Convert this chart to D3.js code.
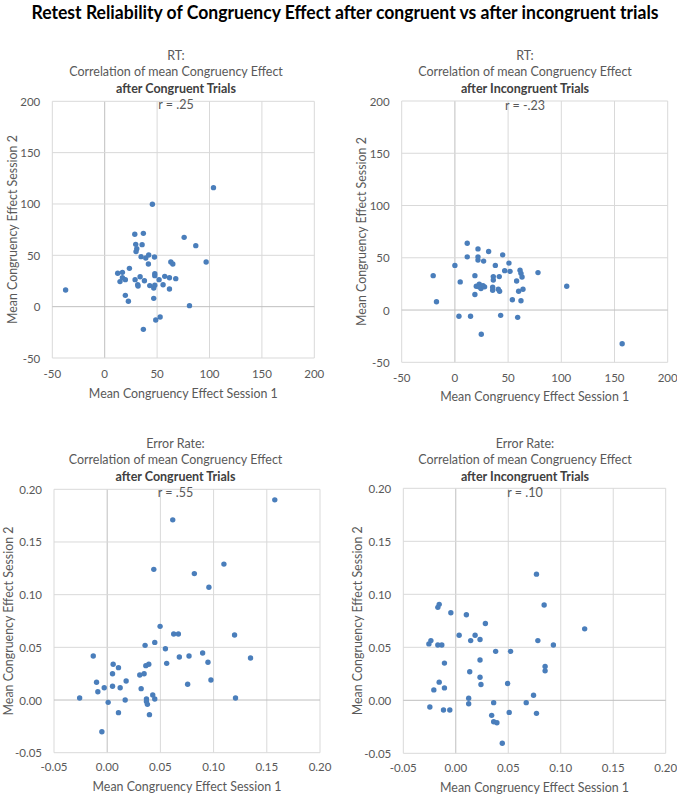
<!DOCTYPE html>
<html>
<head>
<meta charset="utf-8">
<script src="https://cdn.jsdelivr.net/npm/d3@7"></script>
<style>
  html, body { margin: 0; padding: 0; background: #fff; }
  svg { display: block; }
  text { font-family: Lato, "Open Sans", sans-serif; }
</style>
</head>
<body>
<svg id="chart" width="677" height="796"></svg>
<script>
// ---------- DATA ----------
const mainTitle = "Retest Reliability of Congruency Effect after congruent vs after incongruent trials";
const xAxisTitle = "Mean Congruency Effect Session 1";
const yAxisTitle = "Mean Congruency Effect Session 2";

const rtTicks = [-50, 0, 50, 100, 150, 200];
const rtTickLabels = ["-50", "0", "50", "100", "150", "200"];
const erTicks = [-0.05, 0, 0.05, 0.10, 0.15, 0.20];
const erTickLabels = ["-0.05", "0.00", "0.05", "0.10", "0.15", "0.20"];

// RT, after congruent trials (r = .25)
const rtCongX = [-37.3, 45.5, 103.8, 28.7, 36.9, 75.8, 86.9, 29.6, 35.7, 30.6, 29.9, 34.7, 39.2, 42, 47.5, 96.8, 63.1, 65, 41.7, 23.6, 12.4, 16.9, 16.9, 14.6, 19.7, 29, 33.8, 37.9, 47.8, 47.8, 51.9, 57.3, 61.8, 67.8, 31.5, 31.8, 43, 46.8, 47.8, 55.7, 61.8, 19.7, 22.6, 46.8, 80.9, 52.9, 48.7, 36.9];
const rtCongY = [16.2, 99.7, 115.9, 70.5, 71.4, 67.5, 59.4, 60.7, 60.4, 56.5, 53.6, 48.7, 47.4, 50.3, 48.4, 43.5, 43.5, 41.6, 41.6, 37.3, 32.5, 33.4, 28.2, 24.4, 26.3, 26.3, 29.2, 25.3, 32.1, 30.2, 26.3, 29.5, 28.2, 27.3, 21.4, 20.1, 20.5, 18.2, 20.8, 21.4, 17.2, 11, 5.2, 8.1, 1, -10.1, -13, -22.1];

// RT, after incongruent trials (r = -.23)
const rtIncX = [-20.4, -17.3, 0, 11.6, 11.6, 5, 3.8, 14.7, 21.7, 21.7, 21.7, 27, 31.7, 44.9, 18.8, 18.8, 20.1, 22.9, 24.5, 26.4, 27.9, 22.6, 38, 36.1, 36.1, 35.5, 35.5, 41.7, 40.8, 42, 46.8, 50.8, 51.8, 61.2, 62.1, 63.1, 58, 59.9, 64, 54, 62.1, 78.1, 105.1, 43, 59, 24.8, 157.2];
const rtIncY = [32.9, 7.9, 42.7, 63.9, 50.9, 26.9, -6, -6, 58.5, 50.9, 47.8, 46.8, 56, 52.8, 32.9, 14.9, 22.8, 24.7, 20.6, 23.4, 22.2, 22.2, 42.7, 32, 28.8, 21.8, 19, 32, 19.9, 18, 37.7, 44.9, 37, 38, 35.1, 31.6, 27.8, 18, 19.9, 9.8, 8.9, 35.8, 22.8, -5.1, -7, -23.1, -32.3];

// Error rate, after congruent trials (r = .55)
const erCongX = [0.1575, 0.0616, 0.0438, 0.0819, 0.0956, 0.1097, 0.0497, 0.0625, 0.0669, 0.1197, 0.0447, 0.0356, 0.0547, -0.0131, 0.0769, 0.0678, 0.0897, 0.0947, 0.1347, 0.0559, 0.0056, 0.0106, 0.0363, 0.0391, 0.005, 0.0306, 0.0347, -0.01, 0.0178, 0.0975, 0.0756, -0.0028, 0.005, 0.0122, 0.0319, -0.0088, -0.0259, 0.0169, 0.0009, 0.0369, 0.0369, 0.0378, 0.0428, 0.0447, 0.1206, 0.0106, 0.0397, -0.005];
const erCongY = [0.190, 0.171, 0.124, 0.120, 0.107, 0.129, 0.0699, 0.0627, 0.0627, 0.0617, 0.0547, 0.0519, 0.0487, 0.0418, 0.0418, 0.0408, 0.0446, 0.0358, 0.0399, 0.0348, 0.0339, 0.0307, 0.0326, 0.0339, 0.025, 0.0237, 0.025, 0.0168, 0.018, 0.019, 0.0149, 0.0117, 0.013, 0.0117, 0.0108, 0.0079, 0.0019, 0.0, -0.0022, 0.0009, -0.0013, -0.0041, 0.0047, 0.0009, 0.0019, -0.012, -0.0139, -0.0301];

// Error rate, after incongruent trials (r = .10)
const erIncX = [0.0769, 0.0842, -0.0158, -0.0171, -0.0047, 0.0101, 0.0282, 0.1228, 0.0032, 0.0184, 0.0142, 0.0231, 0.0782, 0.093, -0.0237, -0.0256, -0.0171, -0.0133, 0.038, 0.0522, 0.0231, -0.0108, 0.0851, 0.0851, 0.0133, 0.0231, 0.024, 0.0494, -0.0158, -0.0108, -0.0209, 0.0123, 0.0123, 0.0361, 0.0671, 0.0741, -0.0247, -0.0117, -0.0057, 0.0509, 0.0769, 0.0342, 0.0361, 0.0392, 0.0443];
const erIncY = [0.119, 0.0899, 0.0905, 0.0877, 0.0826, 0.0807, 0.0725, 0.0674, 0.0614, 0.0614, 0.0563, 0.0573, 0.0563, 0.0522, 0.0563, 0.0532, 0.0522, 0.0522, 0.0462, 0.0462, 0.038, 0.0351, 0.032, 0.0278, 0.0269, 0.0218, 0.0149, 0.0158, 0.0171, 0.0117, 0.0098, 0.0019, -0.0032, -0.0022, -0.0022, 0.0047, -0.0063, -0.0092, -0.0092, -0.0114, -0.0123, -0.0142, -0.0203, -0.0212, -0.0405];

// ---------- LAYOUT ----------
const panels = [
  { head: "RT:", bold: "after Congruent Trials", r: "r = .25", xs: rtCongX, ys: rtCongY,
    ticks: rtTicks, labels: rtTickLabels,
    box: { l: 52.3, r: 314.3, t: 101.3, b: 358 }, cx: 176, titleY: 55, rY: 104,
    xTickY: 373, xTitleY: 393, yTitleX: 12 },
  { head: "RT:", bold: "after Incongruent Trials", r: "r = -.23", xs: rtIncX, ys: rtIncY,
    ticks: rtTicks, labels: rtTickLabels,
    box: { l: 401.7, r: 667.7, t: 101, b: 362.3 }, cx: 525, titleY: 55, rY: 105,
    xTickY: 377.5, xTitleY: 396.5, yTitleX: 361 },
  { head: "Error Rate:", bold: "after Congruent Trials", r: "r = .55", xs: erCongX, ys: erCongY,
    ticks: erTicks, labels: erTickLabels,
    box: { l: 54, r: 320, t: 489.3, b: 752.7 }, cx: 175.5, titleY: 443.3, rY: 492.7,
    xTickY: 766.7, xTitleY: 786, yTitleX: 8.5 },
  { head: "Error Rate:", bold: "after Incongruent Trials", r: "r = .10", xs: erIncX, ys: erIncY,
    ticks: erTicks, labels: erTickLabels,
    box: { l: 403.3, r: 665.7, t: 488.3, b: 753.3 }, cx: 525, titleY: 443.3, rY: 492.7,
    xTickY: 767.7, xTitleY: 787, yTitleX: 357.5 }
];

const svg = d3.select("#chart");
const textCol = "#595959";
const tickFont = 11.5, titleFont = 12.5, axisFont = 12.4;

svg.append("text")
  .attr("x", 345).attr("y", 12)
  .attr("text-anchor", "middle").attr("dominant-baseline", "central")
  .attr("font-size", 18).attr("font-weight", 700).attr("fill", "#000")
  .attr("textLength", 627).attr("lengthAdjust", "spacingAndGlyphs")
  .text(mainTitle);

panels.forEach(p => {
  const g = svg.append("g");
  const dom = [p.ticks[0], p.ticks[p.ticks.length - 1]];
  const x = d3.scaleLinear().domain(dom).range([p.box.l, p.box.r]);
  const y = d3.scaleLinear().domain(dom).range([p.box.b, p.box.t]);

  // gridlines
  g.selectAll(".vg").data(p.ticks).join("line")
    .attr("x1", d => x(d)).attr("x2", d => x(d))
    .attr("y1", p.box.t).attr("y2", p.box.b)
    .attr("stroke", d => d === 0 ? "#bfbfbf" : "#d9d9d9").attr("stroke-width", 1);
  g.selectAll(".hg").data(p.ticks).join("line")
    .attr("y1", d => y(d)).attr("y2", d => y(d))
    .attr("x1", p.box.l).attr("x2", p.box.r)
    .attr("stroke", d => d === 0 ? "#bfbfbf" : "#d9d9d9").attr("stroke-width", 1);

  // tick labels
  g.selectAll(".xl").data(p.ticks).join("text")
    .attr("x", d => x(d)).attr("y", p.xTickY)
    .attr("text-anchor", "middle").attr("dominant-baseline", "central")
    .attr("font-size", tickFont).attr("fill", textCol)
    .text((d, i) => p.labels[i]);
  g.selectAll(".yl").data(p.ticks).join("text")
    .attr("x", p.box.l - 12).attr("y", d => y(d))
    .attr("text-anchor", "end").attr("dominant-baseline", "central")
    .attr("font-size", tickFont).attr("fill", textCol)
    .text((d, i) => p.labels[i]);

  // axis titles
  g.append("text")
    .attr("x", (p.box.l + p.box.r) / 2).attr("y", p.xTitleY)
    .attr("text-anchor", "middle").attr("dominant-baseline", "central")
    .attr("font-size", axisFont).attr("fill", textCol)
    .text(xAxisTitle);
  g.append("text")
    .attr("transform", `translate(${p.yTitleX},${(p.box.t + p.box.b) / 2}) rotate(-90)`)
    .attr("text-anchor", "middle").attr("dominant-baseline", "central")
    .attr("font-size", axisFont).attr("fill", textCol)
    .text(yAxisTitle);

  // chart title (3 lines)
  g.append("text")
    .attr("x", p.cx).attr("y", p.titleY)
    .attr("text-anchor", "middle").attr("dominant-baseline", "central")
    .attr("font-size", titleFont).attr("fill", textCol).text(p.head);
  g.append("text")
    .attr("x", p.cx).attr("y", p.titleY + 16.5)
    .attr("text-anchor", "middle").attr("dominant-baseline", "central")
    .attr("font-size", titleFont).attr("fill", textCol).text("Correlation of mean Congruency Effect");
  g.append("text")
    .attr("x", p.cx).attr("y", p.titleY + 33)
    .attr("text-anchor", "middle").attr("dominant-baseline", "central")
    .attr("font-size", titleFont).attr("font-weight", 700).attr("fill", "#404040").text(p.bold);

  // r label
  g.append("text")
    .attr("x", p.cx).attr("y", p.rY)
    .attr("text-anchor", "middle").attr("dominant-baseline", "central")
    .attr("font-size", titleFont).attr("fill", textCol).text(p.r);

  // points
  g.selectAll("circle").data(p.xs.map((v, i) => [v, p.ys[i]])).join("circle")
    .attr("cx", d => x(d[0])).attr("cy", d => y(d[1]))
    .attr("r", 2.7).attr("fill", "#4a7ebb");
});
</script>
</body>
</html>
